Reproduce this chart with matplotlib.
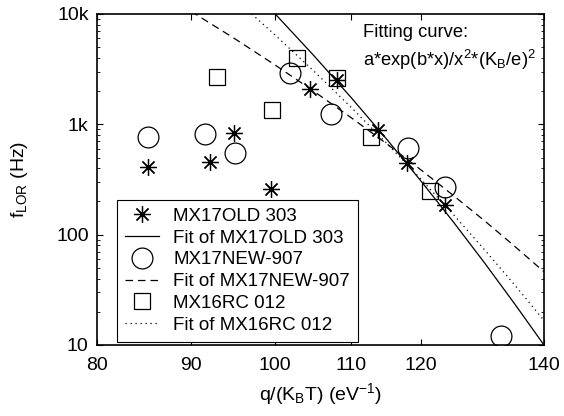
import matplotlib
matplotlib.use("Agg")
import matplotlib.pyplot as plt
from matplotlib.ticker import FixedLocator, NullLocator, FixedFormatter, LogLocator

plt.rcParams['font.family'] = ['Liberation Sans', 'DejaVu Sans']
plt.rcParams['mathtext.fontset'] = 'custom'
plt.rcParams['mathtext.rm'] = 'Liberation Sans'
plt.rcParams['mathtext.it'] = 'Liberation Sans:italic'

# Measured points
old_x = [85.3, 92.15, 94.97, 99.47, 104.4, 108.0, 113.75, 117.9, 123.7]
old_y = [413, 458, 830, 258, 2080, 2523, 890, 444, 186]

new_x = [85.3, 91.58, 95.08, 101.9, 107.2, 118.1, 123.7, 132.7]
new_y = [773, 813, 553, 2904, 1241, 611, 269, 12.1]

rc_x = [92.93, 102.7, 108.1, 99.55, 112.8, 121.4]
rc_y = [2704, 3970, 2612, 1349, 773, 250]

# Fitted curves, sampled along their length
fit_old_x = [100, 105, 110, 115, 120, 125, 130, 135, 140]
fit_old_y = [10000, 4160, 1739, 730, 307, 130, 55.1, 23.4, 10.0]

fit_new_x = [90, 95, 100, 105, 110, 115, 120, 125, 130, 135, 140]
fit_new_y = [10556, 6011, 3442, 1981, 1145, 665, 387, 226, 133, 78.1, 46.1]

fit_rc_x = [97.1, 100, 105, 110, 115, 120, 125, 130, 135, 140]
fit_rc_y = [10000, 6430, 3015, 1419, 671, 319, 152, 72.5, 34.8, 16.7]

x_ticks = [80, 90, 100, 110, 120, 140]
y_ticks = [10, 100, 1000, 10000]
y_tick_labels = ['10', '100', '1k', '10k']

fig = plt.figure(figsize=(5.64, 4.16), dpi=100)
ax = fig.add_axes([0.172, 0.1707, 0.7925, 0.7957])

ax.plot(old_x, old_y, linestyle='none', marker=(8, 2, 0), markersize=12,
        markeredgecolor='black', markeredgewidth=0.9, color='black',
        label='MX17OLD 303')
ax.plot(fit_old_x, fit_old_y, '-', color='black', linewidth=0.9,
        label='Fit of MX17OLD 303')
ax.plot(new_x, new_y, linestyle='none', marker='o', markersize=15,
        markerfacecolor='none', markeredgecolor='black', markeredgewidth=0.9,
        label='MX17NEW-907')
ax.plot(fit_new_x, fit_new_y, linestyle=(0, (6, 4)), color='black', linewidth=0.9,
        label='Fit of MX17NEW-907')
ax.plot(rc_x, rc_y, linestyle='none', marker='s', markersize=12,
        markerfacecolor='none', markeredgecolor='black', markeredgewidth=0.9,
        label='MX16RC 012')
ax.plot(fit_rc_x, fit_rc_y, linestyle=(0, (1, 3)), color='black', linewidth=0.9,
        label='Fit of MX16RC 012')

ax.set_xscale('log')
ax.set_yscale('log')
ax.set_xlim(80, 140)
ax.set_ylim(10, 10000)

ax.xaxis.set_major_locator(FixedLocator(x_ticks))
ax.xaxis.set_major_formatter(FixedFormatter([str(v) for v in x_ticks]))
ax.xaxis.set_minor_locator(NullLocator())
ax.yaxis.set_major_locator(FixedLocator(y_ticks))
ax.yaxis.set_major_formatter(FixedFormatter(y_tick_labels))
ax.yaxis.set_minor_locator(LogLocator(base=10, subs=range(2, 10)))

ax.tick_params(which='both', direction='in', top=True, right=True,
               labelsize=14, colors='black')
ax.tick_params(which='major', length=4, width=0.8)
ax.tick_params(axis='x', which='major', pad=9)
ax.tick_params(axis='y', which='major', pad=6)
ax.tick_params(which='minor', length=2.2, width=0.6)
for s in ax.spines.values():
    s.set_linewidth(1.2)

ax.set_xlabel(r'q/(K$_\mathregular{B}$T) (eV$^\mathregular{-1}$)', fontsize=14)
ax.set_ylabel(r'f$_\mathregular{LOR}$ (Hz)', fontsize=14)
ax.xaxis.set_label_coords(0.5, -0.11)
ax.yaxis.set_label_coords(-0.15, 0.5)

ax.text(0.595, 0.945, 'Fitting curve:', transform=ax.transAxes,
        fontsize=13.2, va='center', ha='left')
ax.text(0.595, 0.862,
        r'a*exp(b*x)/x$^\mathregular{2}$*(K$_\mathregular{B}$/e)$^\mathregular{2}$',
        transform=ax.transAxes, fontsize=13.2, va='center', ha='left')

leg = ax.legend(loc='lower left', bbox_to_anchor=(0.044, 0.01), borderaxespad=0,
                fontsize=13.5, fancybox=False, edgecolor='black', framealpha=1,
                handlelength=1.85, handletextpad=0.75, labelspacing=0.25,
                borderpad=0.42)
leg.get_frame().set_linewidth(0.8)

fig.savefig('out.png', dpi=100)
